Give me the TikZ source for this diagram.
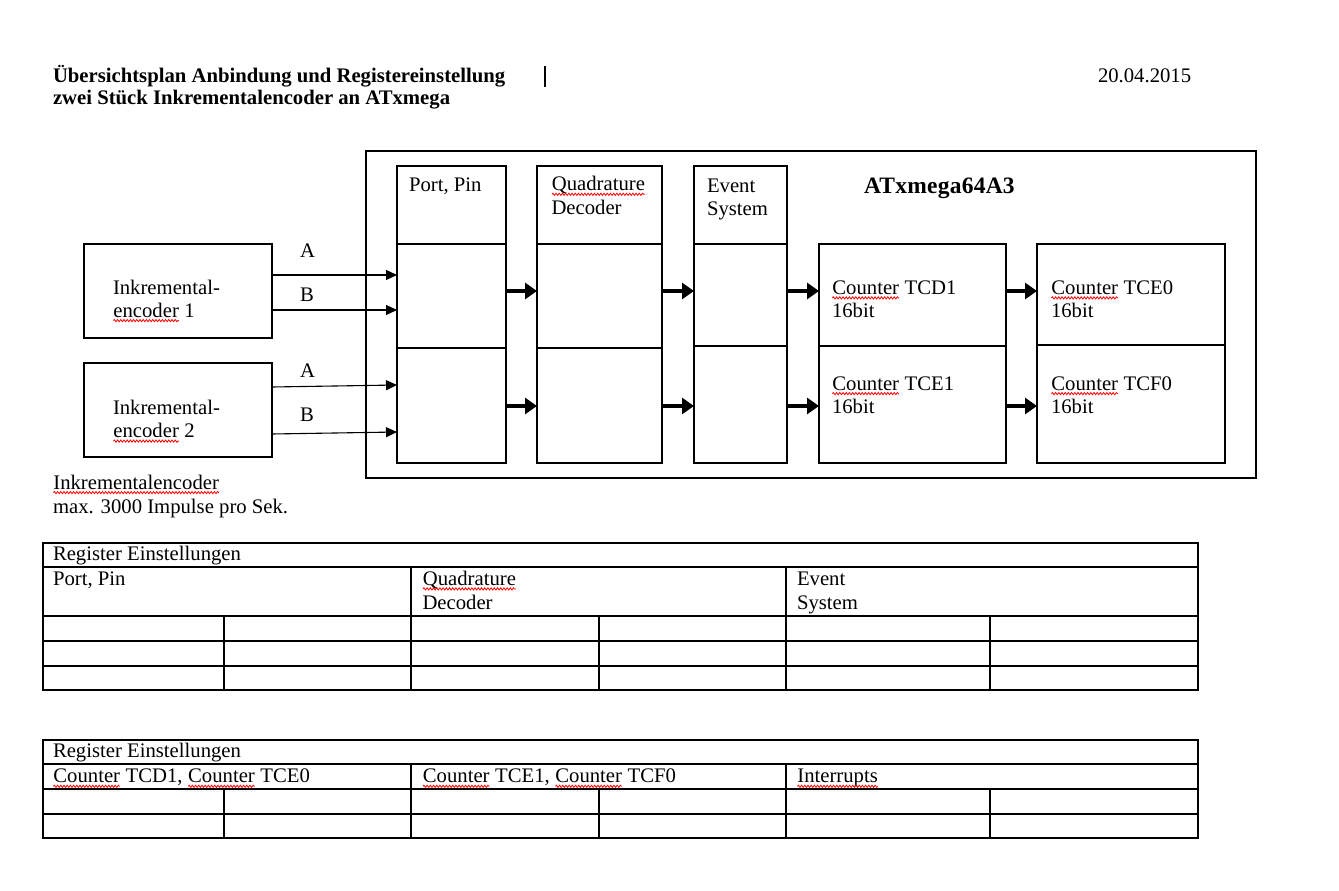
\documentclass[tikz,border=0pt]{standalone}
\usepackage{fontspec}
\setmainfont{Liberation Serif}
\usetikzlibrary{arrows.meta,decorations.pathmorphing}
\newcommand\wv[1]{\tikz[baseline=(wv.base)]{\node[inner sep=0pt,outer sep=0pt,anchor=base west] (wv) at (0,0) {#1};\draw[red,line width=0.8pt,decorate,decoration={snake,amplitude=1.1pt,segment length=3.2pt}] ([yshift=-3.6pt]wv.base west) -- ([yshift=-3.6pt]wv.base east);}}
\tikzset{
  every node/.style={inner sep=0pt,outer sep=0pt},
  txt/.style={anchor=base west,font=\fontsize{20.7}{24}\selectfont},
  btxt/.style={anchor=base west,font=\fontsize{20.7}{24}\selectfont\bfseries},
  box/.style={draw,line width=1.3pt,anchor=north west},
  sig/.style={-{Triangle[length=11pt,width=10pt]},line width=1.1pt},
  flow/.style={-{Triangle[length=12pt,width=16pt]},line width=4pt},
  grid/.style={line width=1.3pt}
}
\begin{document}
\begin{tikzpicture}[x=1pt,y=-1pt]
\fill[white] (0,0) rectangle (1339,891);
\useasboundingbox (0,0) rectangle (1339,891);
% header
\node[btxt] (title1) at (53,82) {Übersichtsplan Anbindung und Registereinstellung};
\node[btxt] (title2) at (53,104) {zwei Stück Inkrementalencoder an ATxmega};
\draw[line width=2pt] (545,66) -- (545,87);
\node[txt] (date) at (1098,82) {20.04.2015};
% encoders
\node[box,minimum width=188pt,minimum height=94pt] (enc1) at (84,244) {};
\node[box,minimum width=188pt,minimum height=94pt] (enc2) at (84,363) {};
\node[txt] (enc1a) at (113,294) {Inkremental-};
\node[txt] (enc1b) at (113,317) {\wv{encoder} 1};
\node[txt] (enc2a) at (113,414) {Inkremental-};
\node[txt] (enc2b) at (113,437.5) {\wv{encoder} 2};
% outer controller box
\node[box,minimum width=890pt,minimum height=327pt] (mcu) at (366,151) {};
\node[anchor=base west,font=\fontsize{23.5}{27}\selectfont\bfseries] (mcuname) at (864,193) {\addfontfeature{LetterSpace=1}ATxmega64A3};
% port column
\node[box,minimum width=109pt,minimum height=78pt] (portT) at (397,166) {};
\node[box,minimum width=109pt,minimum height=104pt] (portA) at (397,244) {};
\node[box,minimum width=109pt,minimum height=115pt] (portB) at (397,348) {};
\node[txt] (portlbl) at (409,191.7) {Port, Pin};
% quadrature column
\node[box,minimum width=125pt,minimum height=78pt] (quadT) at (537,166) {};
\node[box,minimum width=125pt,minimum height=104pt] (quadA) at (537,244) {};
\node[box,minimum width=125pt,minimum height=115pt] (quadB) at (537,348) {};
\node[txt] (quadl1) at (551.5,190.7) {\wv{Quadrature}};
\node[txt] (quadl2) at (551.5,214.3) {Decoder};
% event column
\node[box,minimum width=93pt,minimum height=78pt] (evT) at (694,166) {};
\node[box,minimum width=93pt,minimum height=102pt] (evA) at (694,244) {};
\node[box,minimum width=93pt,minimum height=117pt] (evB) at (694,346) {};
\node[txt] (evl1) at (707,192.3) {Event};
\node[txt] (evl2) at (707,215.7) {System};
% counters
\node[box,minimum width=187pt,minimum height=102pt] (tcd1) at (819,244) {};
\node[box,minimum width=187pt,minimum height=117pt] (tce1) at (819,346) {};
\node[box,minimum width=188pt,minimum height=101pt] (tce0) at (1037,244) {};
\node[box,minimum width=188pt,minimum height=118pt] (tcf0) at (1037,345) {};
\node[txt] (tcd1a) at (832,294.3) {\wv{Counter} TCD1};
\node[txt] (tcd1b) at (832,317.7) {16bit};
\node[txt] (tce1a) at (832,390) {\wv{Counter} TCE1};
\node[txt] (tce1b) at (832,413) {16bit};
\node[txt] (tce0a) at (1051,294.3) {\wv{Counter} TCE0};
\node[txt] (tce0b) at (1051,317.7) {16bit};
\node[txt] (tcf0a) at (1051,390) {\wv{Counter} TCF0};
\node[txt] (tcf0b) at (1051,413) {16bit};
% signal arrows
\draw[sig] (enc1.east |- 0,275) -- (portA.west |- 0,275);
\draw[sig] (enc1.east |- 0,310) -- (portA.west |- 0,310);
\draw[sig] (enc2.east |- 0,387) -- (portB.west |- 0,385);
\draw[sig] (enc2.east |- 0,434) -- (portB.west |- 0,432);
\node[txt] (la1) at (300,257.7) {A};
\node[txt] (lb1) at (300,301) {B};
\node[txt] (la2) at (300,377.7) {A};
\node[txt] (lb2) at (300,421) {B};
% flow arrows
\draw[flow] (portA.east |- 0,291) -- (quadA.west |- 0,291);
\draw[flow] (quadA.east |- 0,291) -- (evA.west |- 0,291);
\draw[flow] (evA.east |- 0,291) -- (tcd1.west |- 0,291);
\draw[flow] (tcd1.east |- 0,291) -- (tce0.west |- 0,291);
\draw[flow] (portB.east |- 0,406) -- (quadB.west |- 0,406);
\draw[flow] (quadB.east |- 0,406) -- (evB.west |- 0,406);
\draw[flow] (evB.east |- 0,406) -- (tce1.west |- 0,406);
\draw[flow] (tce1.east |- 0,406) -- (tcf0.west |- 0,406);
% note
\node[txt] (note1) at (53,489) {\wv{Inkrementalencoder}};
\node[txt] (note2) at (53,513.3) {max. 3000 Impulse pro Sek.};
% table 1
\draw[grid] (43,543) rectangle (1198,690);
\foreach \yy in {567,616,641,666} \draw[grid] (43,\yy) -- (1198,\yy);
\foreach \xx in {411,786} \draw[grid] (\xx,567) -- (\xx,690);
\foreach \xx in {224,599,990} \draw[grid] (\xx,616) -- (\xx,690);
\node[txt] (t1h) at (53,560.7) {Register Einstellungen};
\node[txt] (t1c1) at (53,585.3) {Port, Pin};
\node[txt] (t1c2a) at (422.5,585.3) {\wv{Quadrature}};
\node[txt] (t1c2b) at (422.5,609.3) {Decoder};
\node[txt] (t1c3a) at (797,585.3) {Event};
\node[txt] (t1c3b) at (797,609.3) {System};
% table 2
\draw[grid] (43,740) rectangle (1198,838);
\foreach \yy in {764,789,814} \draw[grid] (43,\yy) -- (1198,\yy);
\foreach \xx in {411,786} \draw[grid] (\xx,764) -- (\xx,838);
\foreach \xx in {224,599,990} \draw[grid] (\xx,789) -- (\xx,838);
\node[txt] (t2h) at (53,757.7) {Register Einstellungen};
\node[txt] (t2c1) at (53,782.7) {\wv{Counter} TCD1, \wv{Counter} TCE0};
\node[txt] (t2c2) at (422.5,782.7) {\wv{Counter} TCE1, \wv{Counter} TCF0};
\node[txt] (t2c3) at (797,782.7) {\wv{Interrupts}};
\end{tikzpicture}
\end{document}
